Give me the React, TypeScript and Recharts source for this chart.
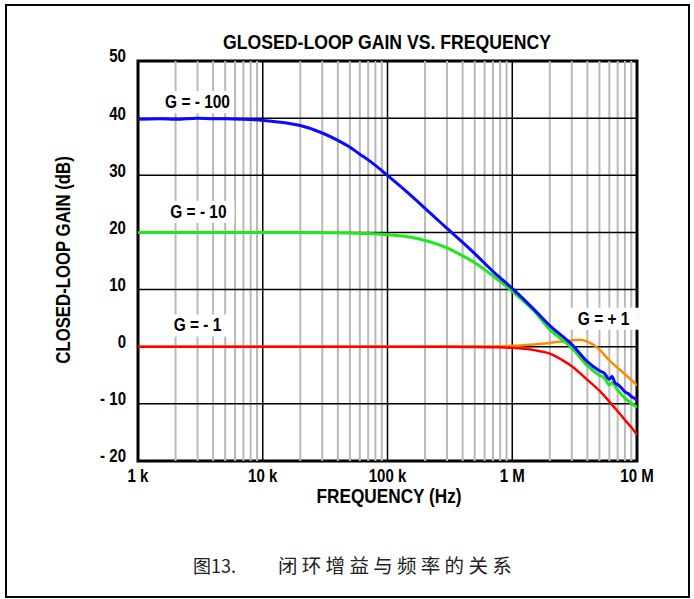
import { LineChart, Line, XAxis, YAxis, ReferenceLine, ReferenceArea, ReferenceDot } from "recharts";

// frequency (Hz) vs closed-loop gain (dB)
const GAIN_N100 = [
  { f: 1000, db: 39.8 }, { f: 1500, db: 39.9 }, { f: 2000, db: 39.8 }, { f: 3000, db: 40.0 },
  { f: 4000, db: 39.9 }, { f: 5000, db: 39.9 }, { f: 7000, db: 39.8 }, { f: 10000, db: 39.6 },
  { f: 15000, db: 39.2 }, { f: 20000, db: 38.7 }, { f: 30000, db: 37.4 }, { f: 40000, db: 36.1 },
  { f: 50000, db: 34.9 }, { f: 60000, db: 33.7 }, { f: 70000, db: 32.7 }, { f: 100000, db: 30.0 },
  { f: 150000, db: 26.7 }, { f: 200000, db: 24.2 }, { f: 300000, db: 20.7 }, { f: 500000, db: 16.3 },
  { f: 700000, db: 13.2 }, { f: 1000000, db: 10.2 }, { f: 1500000, db: 6.5 }, { f: 2000000, db: 3.7 },
  { f: 3000000, db: 0.4 }, { f: 4000000, db: -2.6 }, { f: 5000000, db: -4.2 }, { f: 5500000, db: -4.7 },
  { f: 6000000, db: -5.7 }, { f: 6300000, db: -5.2 }, { f: 6700000, db: -6.4 }, { f: 7000000, db: -6.6 },
  { f: 7500000, db: -7.2 }, { f: 8000000, db: -7.9 }, { f: 8500000, db: -8.2 }, { f: 9000000, db: -8.7 },
  { f: 9500000, db: -9.0 }, { f: 10000000, db: -9.4 },
];

const GAIN_N10 = [
  { f: 1000, db: 20.0 }, { f: 2000, db: 20.0 }, { f: 5000, db: 20.0 }, { f: 10000, db: 20.0 },
  { f: 20000, db: 20.0 }, { f: 50000, db: 19.9 }, { f: 70000, db: 19.8 }, { f: 100000, db: 19.6 },
  { f: 150000, db: 19.2 }, { f: 200000, db: 18.6 }, { f: 300000, db: 17.3 }, { f: 400000, db: 15.9 },
  { f: 500000, db: 14.7 }, { f: 700000, db: 12.4 }, { f: 1000000, db: 9.7 }, { f: 1500000, db: 6.2 },
  { f: 2000000, db: 3.0 }, { f: 3000000, db: -0.2 }, { f: 4000000, db: -3.3 }, { f: 5000000, db: -5.0 },
  { f: 5500000, db: -5.5 }, { f: 6000000, db: -6.7 }, { f: 6300000, db: -6.3 }, { f: 7000000, db: -7.6 },
  { f: 8000000, db: -9.0 }, { f: 9000000, db: -9.9 }, { f: 10000000, db: -10.6 },
];

const GAIN_N1 = [
  { f: 1000, db: 0 }, { f: 10000, db: 0 }, { f: 100000, db: 0 }, { f: 300000, db: 0 },
  { f: 500000, db: -0.05 }, { f: 700000, db: -0.1 }, { f: 1000000, db: -0.2 }, { f: 1500000, db: -0.6 },
  { f: 2000000, db: -1.2 }, { f: 2500000, db: -2.3 }, { f: 3000000, db: -3.4 }, { f: 4000000, db: -5.8 },
  { f: 5000000, db: -7.7 }, { f: 6000000, db: -9.6 }, { f: 7000000, db: -11.3 }, { f: 8000000, db: -12.8 },
  { f: 9000000, db: -14.1 }, { f: 10000000, db: -15.4 },
];

const GAIN_P1 = [
  { f: 1000, db: 0 }, { f: 100000, db: 0 }, { f: 500000, db: 0.05 }, { f: 1000000, db: 0.15 },
  { f: 1500000, db: 0.4 }, { f: 2000000, db: 0.65 }, { f: 2500000, db: 0.9 }, { f: 3000000, db: 1.1 },
  { f: 3500000, db: 1.2 }, { f: 4000000, db: 0.9 }, { f: 4500000, db: 0.3 }, { f: 5000000, db: -0.5 },
  { f: 6000000, db: -2.4 }, { f: 7000000, db: -3.7 }, { f: 8000000, db: -4.8 }, { f: 9000000, db: -5.8 },
  { f: 10000000, db: -6.8 },
];

const DECADES = [1000, 10000, 100000, 1000000, 10000000];
const DECADE_LABELS = ["1 k", "10 k", "100 k", "1 M", "10 M"];
const MINOR = [1000, 10000, 100000, 1000000].flatMap((d) => [2, 3, 4, 5, 6, 7, 8, 9].map((m) => m * d));
const Y_TICKS = [-20, -10, 0, 10, 20, 30, 40, 50];

const CURVE_LABELS = [
  { text: "G = - 100", f: 3000, db: 42.8 },
  { text: "G = - 10", f: 3050, db: 23.6 },
  { text: "G = - 1", f: 3000, db: 3.7 },
  { text: "G = + 1", f: 5400000, db: 4.9 },
];

const FONT = '"Liberation Sans", Arial, sans-serif';
const NARROW = 0.86; // the original type is a condensed bold face

function XTick({ x, y, payload }: any) {
  const i = DECADES.indexOf(payload.value);
  return (
    <text transform={`translate(${x} ${y + 15}) scale(${NARROW} 1)`} textAnchor="middle" dominantBaseline="central" fontFamily={FONT} fontWeight="bold" fontSize={17.5} fill="#000">
      {DECADE_LABELS[i]}
    </text>
  );
}

function YTick({ x, y, payload }: any) {
  const v = payload.value;
  return (
    <text transform={`translate(${x} ${y - 5}) scale(${NARROW} 1)`} textAnchor="end" dominantBaseline="central" fontFamily={FONT} fontWeight="bold" fontSize={17.5} fill="#000">
      {v < 0 ? `- ${-v}` : `${v}`}
    </text>
  );
}

function CurveLabel(text: string) {
  return ({ cx, cy }: any) => (
    <g>
      <rect x={cx - 36} y={cy - 11} width={72} height={22} fill="#fff" />
      <text transform={`translate(${cx} ${cy}) scale(${NARROW} 1)`} textAnchor="middle" dominantBaseline="central" fontFamily={FONT} fontWeight="bold" fontSize={18} fill="#000">
        {text}
      </text>
    </g>
  );
}

const textStyle = { position: "absolute" as const, fontFamily: FONT, fontWeight: "bold" as const, color: "#000", whiteSpace: "nowrap" as const, lineHeight: 1 };
const captionStyle = { position: "absolute" as const, top: 565, transform: "translateY(-50%)", fontFamily: '"Noto Sans CJK SC", sans-serif', color: "#222", whiteSpace: "nowrap" as const, lineHeight: 1 };

export default function App() {
  return (
    <div style={{ position: "absolute", left: 0, top: 0, width: 694, height: 599, background: "#fff" }}>
      <div style={{ position: "absolute", left: 5, top: 4, width: 685, height: 594, border: "2px solid #000", boxSizing: "border-box" }} />

      <div style={{ ...textStyle, left: 387, top: 42, fontSize: 20.5, transform: `translate(-50%, -50%) scaleX(${NARROW})` }}>
        GLOSED-LOOP GAIN VS. FREQUENCY
      </div>
      <div style={{ ...textStyle, left: 64, top: 260, fontSize: 19.5, transform: `translate(-50%, -50%) rotate(-90deg) scaleX(${NARROW})` }}>
        CLOSED-LOOP GAIN (dB)
      </div>
      <div style={{ ...textStyle, left: 389, top: 496, fontSize: 20, transform: `translate(-50%, -50%) scaleX(${NARROW})` }}>
        FREQUENCY (Hz)
      </div>

      <div style={{ position: "absolute", left: 0, top: 0 }}>
        <LineChart width={694} height={599} margin={{ top: 61, right: 57, bottom: 98, left: 78 }}>
          <XAxis
            dataKey="f"
            type="number"
            scale="log"
            domain={[1000, 10000000]}
            ticks={DECADES}
            allowDataOverflow
            axisLine={false}
            tickLine={false}
            tickSize={0}
            tickMargin={0}
            height={40}
            tick={<XTick />}
          />
          <YAxis
            type="number"
            domain={[-20, 50]}
            ticks={Y_TICKS}
            allowDataOverflow
            axisLine={false}
            tickLine={false}
            tickSize={0}
            tickMargin={12}
            width={60}
            tick={<YTick />}
          />
          {MINOR.map((f) => (
            <ReferenceLine key={`m${f}`} x={f} stroke="#b9b9b9" strokeWidth={2} />
          ))}
          {DECADES.slice(1, -1).map((f) => (
            <ReferenceLine key={`d${f}`} x={f} stroke="#000" strokeWidth={1.5} />
          ))}
          {Y_TICKS.slice(1, -1).map((v) => (
            <ReferenceLine key={`h${v}`} y={v} stroke="#000" strokeWidth={1.5} />
          ))}
          {CURVE_LABELS.map((l) => (
            <ReferenceDot key={l.text} x={l.f} y={l.db} r={0} ifOverflow="visible" shape={CurveLabel(l.text)} />
          ))}
          <Line data={GAIN_P1} dataKey="db" type="monotone" stroke="#ff8a00" strokeWidth={2.5} dot={false} isAnimationActive={false} />
          <Line data={GAIN_N10} dataKey="db" type="monotone" stroke="#1ee81e" strokeWidth={3} dot={false} isAnimationActive={false} />
          <Line data={GAIN_N100} dataKey="db" type="monotone" stroke="#0a0aff" strokeWidth={3} dot={false} isAnimationActive={false} />
          <Line data={GAIN_N1} dataKey="db" type="monotone" stroke="#ff0000" strokeWidth={2.5} dot={false} isAnimationActive={false} />
          <ReferenceArea x1={1000} x2={10000000} y1={-20} y2={50} fill="none" stroke="#000" strokeWidth={3} ifOverflow="visible" />
        </LineChart>
      </div>

      <div style={{ ...captionStyle, left: 193, fontSize: 18 }}>图13.</div>
      <div style={{ ...captionStyle, left: 278, fontSize: 19.5, letterSpacing: 4.3 }}>闭环增益与频率的关系</div>
    </div>
  );
}
